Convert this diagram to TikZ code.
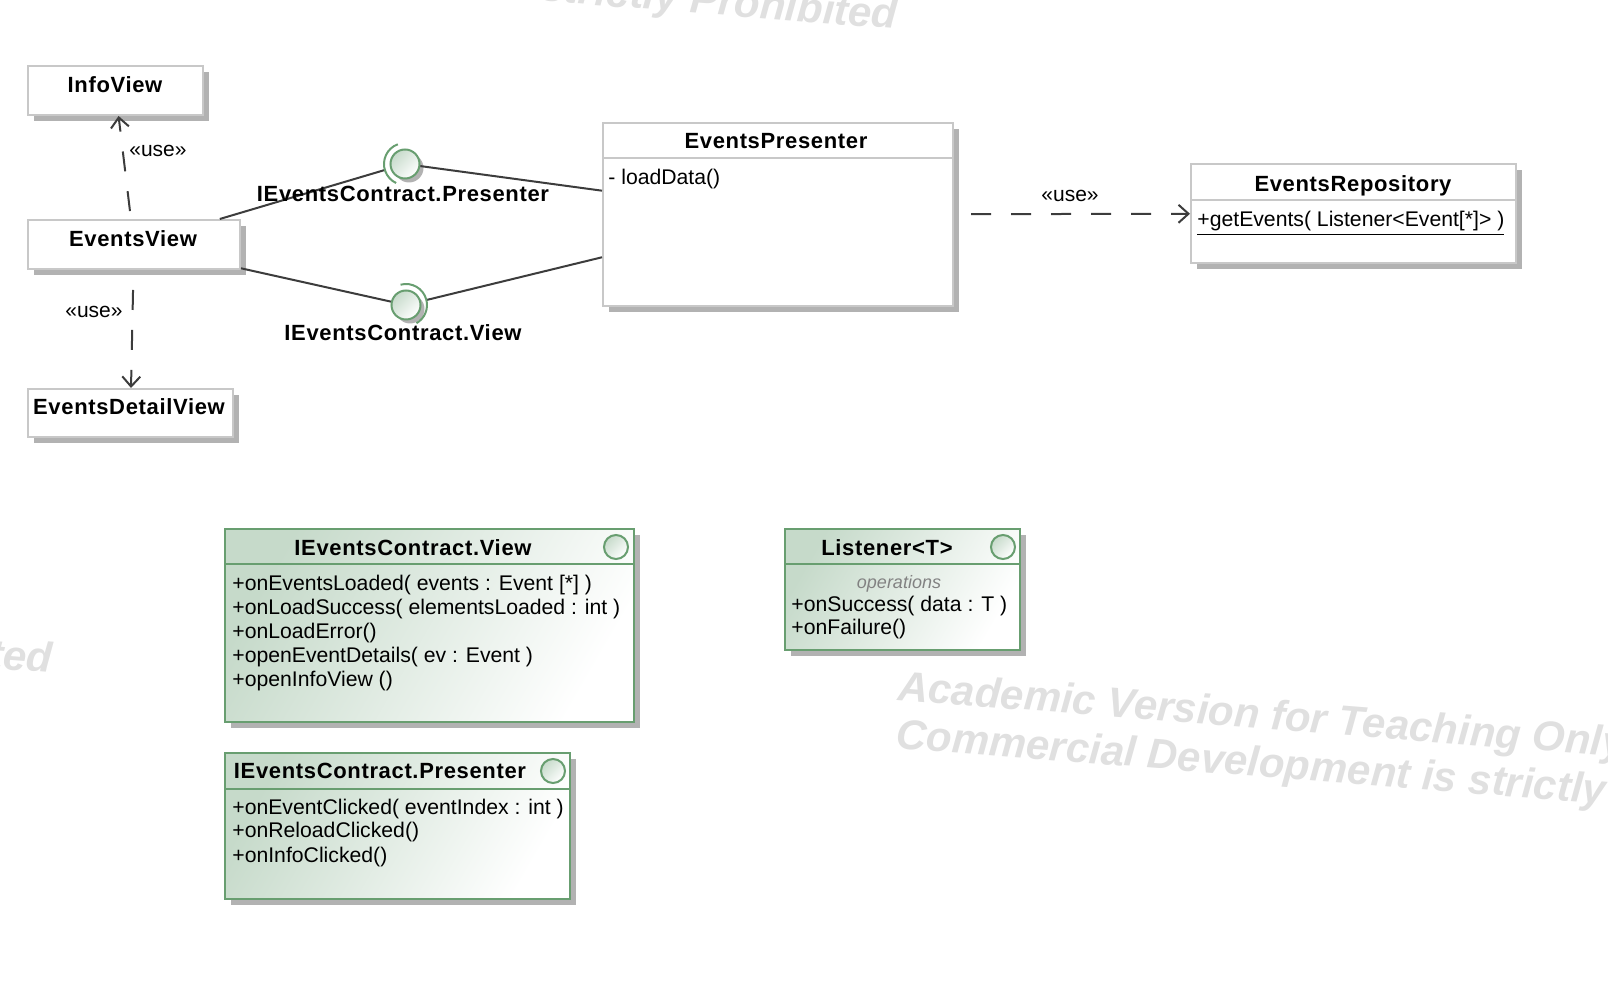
\documentclass[tikz,border=0pt]{standalone}
\usepackage{fontspec}
\setmainfont{Liberation Sans}
\newfontfamily\headfont[LetterSpace=3]{Liberation Sans}
\usetikzlibrary{arrows.meta,shadows,fit}

\definecolor{linegray}{RGB}{60,60,60}
\definecolor{boxgray}{RGB}{200,200,200}
\definecolor{shadowgray}{RGB}{178,178,178}
\definecolor{umlgreen}{RGB}{104,158,112}
\definecolor{umlfill}{RGB}{198,218,202}
\definecolor{markgray}{RGB}{224,224,224}
\definecolor{opsgray}{RGB}{130,130,130}

\tikzset{
  boxshadow/.style={drop shadow={shadow xshift=3pt, shadow yshift=-3pt, fill=shadowgray, opacity=1}},
  plainbox/.style={draw=boxgray, line width=1pt, fill=white, inner sep=0pt, boxshadow},
  greenbox/.style={draw=umlgreen, line width=1pt, top color=umlfill, bottom color=white,
    shading angle=60, inner sep=0pt, boxshadow},
  ball/.style={circle, draw=umlgreen, line width=1pt, top color=umlfill, bottom color=white,
    shading angle=45, minimum size=14.5pt, inner sep=0pt,
    drop shadow={shadow xshift=2pt, shadow yshift=-2pt, fill=shadowgray, opacity=1}},
  icon/.style={circle, draw=umlgreen, line width=1pt, top color=umlfill, bottom color=white,
    shading angle=45, minimum size=12pt, inner sep=0pt},
  socket/.style={circle, minimum size=21pt, inner sep=0pt},
  title/.style={font=\headfont\bfseries\fontsize{11}{13}\selectfont, anchor=base, inner sep=0pt},
  member/.style={font=\fontsize{10.6}{12}\selectfont, anchor=base west, inner sep=0pt},
  stereo/.style={font=\fontsize{10.5}{12}\selectfont, anchor=base, inner sep=0pt},
  wmark/.style={font=\bfseries\itshape\fontsize{21}{25}\selectfont, text=markgray,
    rotate=-4.5, inner sep=0pt},
  conn/.style={draw=linegray, line width=1pt},
  dep/.style={draw=linegray, line width=1pt, dash pattern=on 10pt off 10pt,
    -{Straight Barb[length=5pt,width=9pt]}},
  sepgray/.style={draw=boxgray, line width=1pt},
  sepgreen/.style={draw=umlgreen, line width=1pt}
}

\begin{document}
\begin{tikzpicture}[x=0.5pt, y=-0.5pt]

\useasboundingbox (0,0) rectangle (1608,983);

% --- Filigrane ---
\begin{scope}
\clip (0,0) rectangle (1608,983);
\node[wmark, anchor=base east] (markA) at (897,29)  {Commercial Development is strictly Prohibited};
\node[wmark, anchor=base east] (markB) at (52,673)  {Commercial Development is strictly Prohibited};
\node[wmark, anchor=base west] (markC) at (897,700) {Academic Version for Teaching Only};
\node[wmark, anchor=base west] (markD) at (895,748) {Commercial Development is strictly Prohibited};
\end{scope}

% --- Vues ---
\node[plainbox, fit={(28,66) (203,115)}]  (infoview)   {};
\node[plainbox, fit={(28,220) (240,269)}] (eventsview) {};
\node[plainbox, fit={(28,389) (233,437)}] (detailview) {};
\node[title] (infotitle)   at (115,93)  {InfoView};
\node[title] (eventstitle) at (133,247) {EventsView};
\node[title] (detailtitle) at (129,415) {EventsDetailView};

% --- Presenter et repository ---
\node[plainbox, fit={(603,123) (953,306)}]   (presenter)  {};
\draw[sepgray] (presenter.west |- 0,158) -- (presenter.east |- 0,158);
\node[title] (prestitle) at (776,149) {EventsPresenter};
\node[member] (presload) at (608,184.5) {- loadData()};

\node[plainbox, fit={(1191,164) (1516,263)}] (repository) {};
\draw[sepgray] (repository.west |- 0,200) -- (repository.east |- 0,200);
\node[title] (repotitle) at (1353,192) {EventsRepository};
\node[member] (repoget) at (1197,227) {\underline{+getEvents( Listener<Event[*]> )}};

% --- Interfaces (lollipops) ---
\node[socket] (psock) at (405,164) {};
\node[socket] (vsock) at (406,305) {};
\node[ball] (pball) at (405,164) {};
\node[ball] (vball) at (406,305) {};
\draw[conn] (eventsview) -- (psock);
\draw[conn] (eventsview) -- (vball);
\draw[conn] (pball) -- (presenter);
\draw[conn] (vsock) -- (presenter);
\draw[sepgreen] (pball.center) ++(110:10.5pt) arc[start angle=110, end angle=245, radius=10.5pt];
\draw[sepgreen] (vball.center) ++(105:10.5pt) arc[start angle=105, end angle=-60, radius=10.5pt];
\node[title] (plabel) at (403,202) {IEventsContract.Presenter};
\node[title] (vlabel) at (403,341) {IEventsContract.View};

% --- Dependances ---
\draw[dep, dash phase=16pt] (eventsview) -- (infoview);
\draw[dep, dash phase=10pt] (eventsview) -- (detailview);
\draw[dep, dash phase=11.5pt] (presenter) -- (repository);
\node[stereo] (useinfo)   at (158,156.5) {«use»};
\node[stereo] (usedetail) at (94,317.5)  {«use»};
\node[stereo] (userepo)   at (1070,201.5) {«use»};

% --- IEventsContract.View ---
\node[greenbox, fit={(225,529) (634,722)}] (viewif) {};
\draw[sepgreen] (viewif.west |- 0,564) -- (viewif.east |- 0,564);
\node[title] (viewtitle) at (413,556) {IEventsContract.View};
\node[icon] (viewicon) at (616,547) {};
\node[member] (v1) at (232,591)   {+onEventsLoaded( events : Event [*] )};
\node[member] (v2) at (232,614.5) {+onLoadSuccess( elementsLoaded : int )};
\node[member] (v3) at (232,639)   {+onLoadError()};
\node[member] (v4) at (232,663)   {+openEventDetails( ev : Event )};
\node[member] (v5) at (232,686.5) {+openInfoView ()};

% --- IEventsContract.Presenter ---
\node[greenbox, fit={(225,753) (570,899)}] (presif) {};
\draw[sepgreen] (presif.west |- 0,789) -- (presif.east |- 0,789);
\node[title] (presiftitle) at (380,779) {IEventsContract.Presenter};
\node[icon] (presicon) at (553,771) {};
\node[member] (p1) at (232,814.5) {+onEventClicked( eventIndex : int )};
\node[member] (p2) at (232,838)   {+onReloadClicked()};
\node[member] (p3) at (232,863)   {+onInfoClicked()};

% --- Listener<T> ---
\node[greenbox, fit={(785,529) (1020,650)}] (listener) {};
\draw[sepgreen] (listener.west |- 0,564) -- (listener.east |- 0,564);
\node[title] (listtitle) at (887,556) {Listener<T>};
\node[icon] (listicon) at (1003,547) {};
\node[font=\itshape\fontsize{9}{11}\selectfont, text=opsgray, anchor=base, inner sep=0pt]
  (listops) at (899,589) {operations};
\node[member] (l1) at (791,611.5) {+onSuccess( data : T )};
\node[member] (l2) at (791,635)   {+onFailure()};

\end{tikzpicture}
\end{document}
